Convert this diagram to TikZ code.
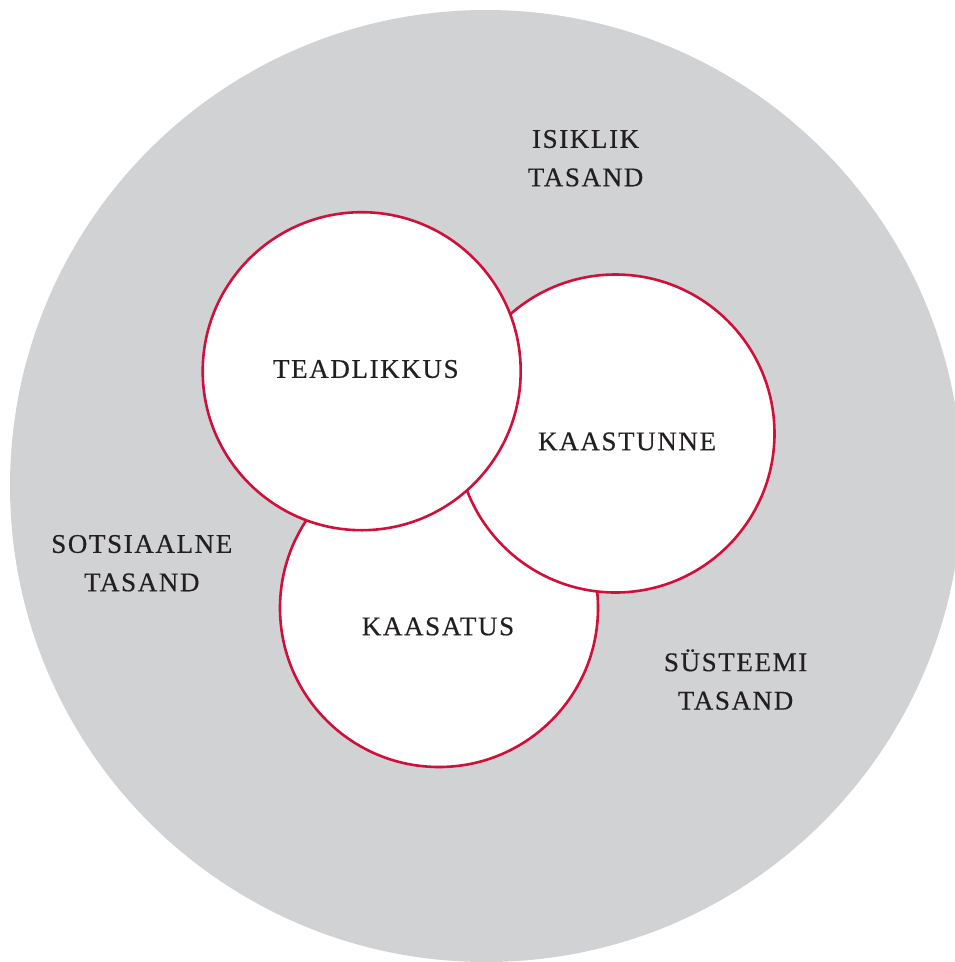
\documentclass[tikz,border=0pt]{standalone}
\usepackage{fontspec}
\newfontfamily\lblfont{Liberation Serif}[LetterSpace=6,FakeBold=0.4]
\definecolor{bggray}{HTML}{D1D2D4}
\definecolor{ringred}{HTML}{D0103A}
\definecolor{txt}{HTML}{231F20}
\tikzset{
  ring/.style={circle, draw=ringred, fill=white, line width=2.6pt, minimum size=318pt, inner sep=0pt},
  lbl/.style={anchor=south, inner sep=0pt, align=center, text=txt,
    font=\lblfont\fontsize{27}{38.4}\selectfont}
}
\begin{document}
\begin{tikzpicture}[x=1pt,y=-1pt]
\useasboundingbox (0,0) rectangle (955,962);
\begin{scope}
\clip (0,0) rectangle (955,962);
\fill[bggray] (486,486) circle[radius=476pt];
\end{scope}
\node[ring] (kaasatus) at (439,608) {};
\node[ring] (kaastunne) at (615.5,433.5) {};
\node[ring] (teadlikkus) at (361.7,371.2) {};
\node[lbl] (tTeadlikkus) at (365.8,378.3) {TEADLIKKUS};
\node[lbl] (tKaastunne) at (627.1,450.7) {KAASTUNNE};
\node[lbl] (tKaasatus) at (438,635.7) {KAASATUS};
\node[lbl] (tIsiklik) at (585.6,186.7) {ISIKLIK\\TASAND};
\node[lbl] (tSotsiaalne) at (141.8,591.7) {SOTSIAALNE\\TASAND};
\node[lbl] (tSysteemi) at (735.6,710) {SÜSTEEMI\\TASAND};
\end{tikzpicture}
\end{document}
